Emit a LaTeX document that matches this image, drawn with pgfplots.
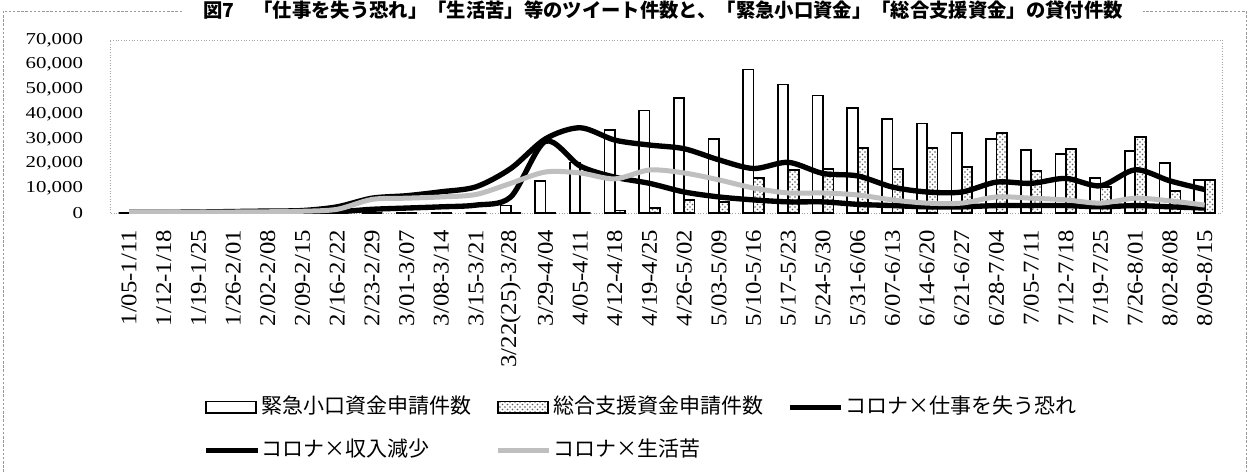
\documentclass[border=0pt]{standalone}
\usepackage{fontspec}
\usepackage{pgfplots}
\usepackage{pgfplotstable}
\pgfplotsset{compat=1.18}
\usetikzlibrary{patterns}
\setmainfont{Liberation Serif}
\newfontfamily\cjk{Noto Sans CJK JP}
\newfontfamily\ynum[FakeStretch=1.25]{Liberation Serif}
\newfontfamily\xnum[FakeStretch=1.1]{Liberation Serif}

\pgfplotsset{
  barlegend/.style={legend image code/.code={\draw[##1] (0pt,-3.5pt) rectangle (30pt,3.5pt);}},
  linelegend/.style={legend image code/.code={\draw[##1] (0pt,0pt) -- (31pt,0pt);}},
}

% i: week, k: 緊急小口, s: 総合支援, a: 仕事を失う恐れ, b: 収入減少, c: 生活苦
\pgfplotstableread{
i k s a b c
0 0 0 300 0 200
1 0 0 300 0 200
2 0 0 400 100 300
3 0 0 600 200 400
4 0 0 800 300 500
5 0 0 1000 300 700
6 0 0 2500 500 1500
7 0 0 6000 1500 5500
8 0 0 7000 2000 6000
9 0 0 8600 2500 6500
10 0 0 10600 3200 7500
11 3000 0 18000 6500 12000
12 13000 0 30000 29000 16600
13 20500 0 34500 19000 16200
14 33500 1000 29500 14500 13800
15 41500 2000 27500 12000 17400
16 46500 5300 26000 8500 16200
17 30000 4500 21500 6500 13400
18 58000 14200 18000 5300 10100
19 52000 17400 20500 4500 8100
20 47500 17800 16000 4500 8100
21 42500 26300 15000 3500 7300
22 38000 17800 10500 3000 5300
23 36200 26300 8500 2500 4000
24 32400 18600 8500 2500 4000
25 29900 32300 12500 3000 6500
26 25500 17000 12000 3000 6000
27 23900 25900 14000 3000 5300
28 14200 10500 11000 2500 4000
29 25100 30800 17500 3000 6000
30 20200 9000 13000 2500 4900
31 13400 13400 9500 2000 3200
}\data

\begin{document}
\begin{tikzpicture}
  \path[use as bounding box, clip] (0pt,0pt) rectangle (749.4pt,-283.2pt);

  % outer frame and title, in pixel units
  \begin{scope}[x=0.6pt, y=-0.6pt]
    \draw[gray!80, dash pattern=on 1.5pt off 1pt, line width=0.5pt] (3,11) rectangle (1246,495);
    \node[font=\cjk\bfseries\fontsize{11.6}{13}\selectfont, fill=white, inner xsep=12pt, inner ysep=1pt, anchor=base]
      at (663,17.5) {図7　「仕事を失う恐れ」「生活苦」等のツイート件数と、「緊急小口資金」「総合支援資金」の貸付件数};
  \end{scope}

  \begin{axis}[
    at={(66pt,-127.8pt)}, anchor=south west,
    width=667.2pt, height=103.8pt, scale only axis,
    xmin=-0.55, xmax=31.5, ymin=0, ymax=70000,
    xtick={0,...,31},
    xticklabels={1/05-1/11,1/12-1/18,1/19-1/25,1/26-2/01,2/02-2/08,2/09-2/15,2/16-2/22,2/23-2/29,3/01-3/07,3/08-3/14,3/15-3/21,3/22(25)-3/28,3/29-4/04,4/05-4/11,4/12-4/18,4/19-4/25,4/26-5/02,5/03-5/09,5/10-5/16,5/17-5/23,5/24-5/30,5/31-6/06,6/07-6/13,6/14-6/20,6/21-6/27,6/28-7/04,7/05-7/11,7/12-7/18,7/19-7/25,7/26-8/01,8/02-8/08,8/09-8/15},
    ytick={0,10000,...,70000},
    scaled y ticks=false,
    /pgf/number format/assume math mode=true,
    yticklabel style={/pgf/number format/1000 sep={,}, anchor=east, inner sep=0pt, font=\ynum\fontsize{10}{10}\selectfont},
    yticklabel shift=16pt,
    xticklabel style={rotate=90, anchor=east, inner sep=0pt, font=\xnum\fontsize{13.5}{14}\selectfont},
    xticklabel shift=10pt,
    major tick length=0pt,
    axis line style={gray!70, densely dotted, line width=0.6pt},
    legend columns=3,
    legend cell align=left,
    legend style={at={(0.0836,-1.058)}, anchor=north west, draw=none, fill=none, inner sep=0pt,
      font=\cjk\fontsize{12.6}{14}\selectfont,
      nodes={inner sep=1pt, text height=9pt, text depth=2pt},
      row sep=12.8pt,
      /tikz/every even column/.append style={column sep=13pt}},
  ]
    \addplot[ybar, bar width=0.3, bar shift=-0.15, draw=black, fill=white, line width=1pt, barlegend]
      table[x=i, y=k] {\data};
    \addlegendentry{緊急小口資金申請件数}
    \addplot[ybar, bar width=0.3, bar shift=0.15, draw=black, pattern=crosshatch dots, pattern color=black!65, line width=1pt, barlegend]
      table[x=i, y=s] {\data};
    \addlegendentry{総合支援資金申請件数}
    \addplot[black, line width=3.2pt, smooth, tension=0.5, no markers, linelegend]
      table[x=i, y=a] {\data};
    \addlegendentry{コロナ×仕事を失う恐れ}
    \addplot[black, line width=3.2pt, smooth, tension=0.5, no markers, linelegend]
      table[x=i, y=b] {\data};
    \addlegendentry{コロナ×収入減少}
    \addplot[gray!50, line width=3pt, smooth, tension=0.5, no markers, linelegend]
      table[x=i, y=c] {\data};
    \addlegendentry{コロナ×生活苦}
  \end{axis}
\end{tikzpicture}
\end{document}
